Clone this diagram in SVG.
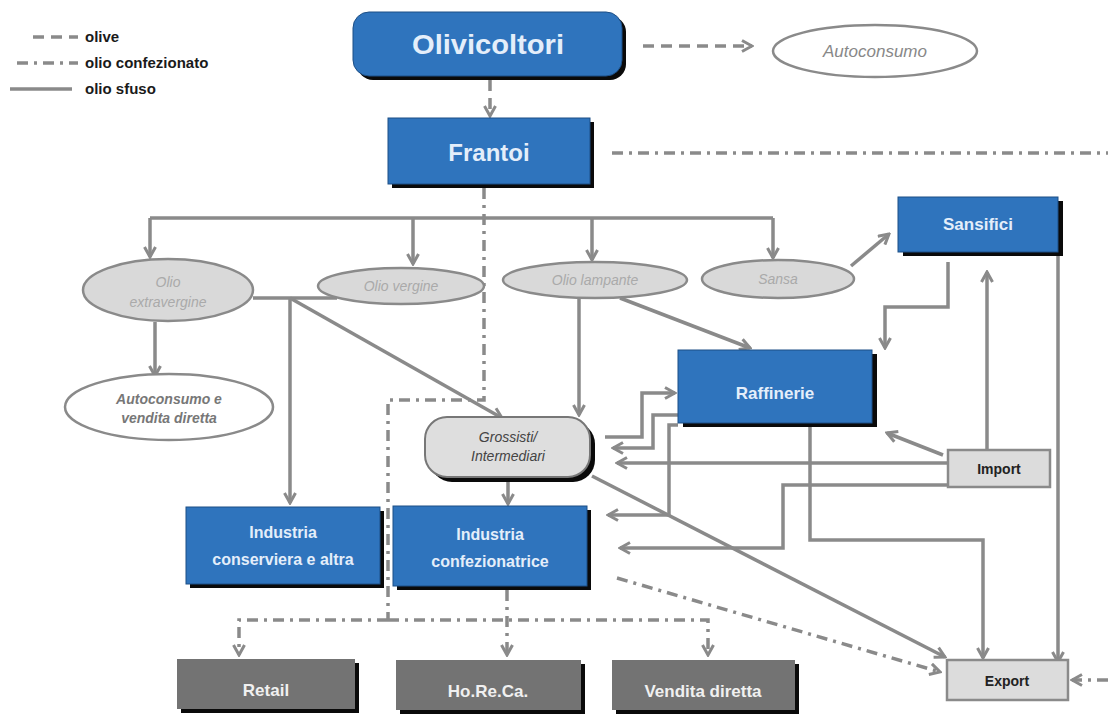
<svg xmlns="http://www.w3.org/2000/svg" width="1108" height="717" viewBox="0 0 1108 717">
<style>
  .s{fill:none;stroke:#8a8a8a;stroke-width:3.5}
  .dd{fill:none;stroke:#8a8a8a;stroke-width:3.5;stroke-dasharray:11 6 3 6}
  .d{fill:none;stroke:#8a8a8a;stroke-width:3.5;stroke-dasharray:11 7}
  .blue{fill:#2f74bd;stroke:#1d4f86;stroke-width:1}
  .shadow{fill:#0a0a0a}
  .grey{fill:#737373}
  .light{fill:#dcdcdc;stroke:#8a8a8a;stroke-width:2.5}
  .oval{fill:#d9d9d9;stroke:#8a8a8a;stroke-width:2.5}
  .woval{fill:#ffffff;stroke:#8a8a8a;stroke-width:2.5}
  .tb{font-family:"Liberation Sans",Arial,sans-serif;font-weight:bold;fill:#e4eefa;text-anchor:middle}
  .tg{font-family:"Liberation Sans",Arial,sans-serif;font-weight:bold;fill:#f0f0f0;text-anchor:middle}
  .tk{font-family:"Liberation Sans",Arial,sans-serif;font-weight:bold;fill:#222;text-anchor:middle}
  .ti{font-family:"Liberation Sans",Arial,sans-serif;font-style:italic;fill:#aaaaaa;text-anchor:middle}
  .leg{font-family:"Liberation Sans",Arial,sans-serif;font-weight:bold;fill:#1a1a1a;font-size:15px}
</style>
<defs>
  <marker id="ah" viewBox="0 0 14 14" refX="12" refY="7" markerWidth="14" markerHeight="14" markerUnits="userSpaceOnUse" orient="auto">
    <path d="M2,1.5 L12,7 L2,12.5" fill="none" stroke="#8a8a8a" stroke-width="3"/>
  </marker>
</defs>
<rect width="1108" height="717" fill="#ffffff"/>

<g id="legend">
  <line x1="33" y1="37" x2="78" y2="37" class="d" stroke-width="2.5" stroke-dasharray="9 6"/>
  <line x1="17" y1="63" x2="78" y2="63" class="dd" stroke-width="2.5" stroke-dasharray="10 6 3 6"/>
  <line x1="10" y1="89" x2="72" y2="89" class="s" stroke-width="2.5"/>
  <text x="85" y="42" class="leg">olive</text>
  <text x="85" y="68" class="leg">olio confezionato</text>
  <text x="85" y="94" class="leg">olio sfuso</text>
</g>

<g id="connectors">
  <path class="d" d="M643,46 H752" marker-end="url(#ah)"/>
  <path class="d" d="M490,80 V116" marker-end="url(#ah)"/>
  <path class="dd" d="M612,153 H1108"/>
  <path class="dd" d="M484,188 V400 H388 V620"/>
  <path class="dd" d="M388,620 H239 V655" marker-end="url(#ah)"/>
  <path class="dd" d="M507,590 V655" marker-end="url(#ah)"/>
  <path class="dd" d="M388,620 H708 V655" marker-end="url(#ah)"/>
  <path class="dd" d="M617,578 L940,672" marker-end="url(#ah)"/>
  <path class="dd" d="M1108,680 H1072" marker-end="url(#ah)"/>
  <path class="s" d="M150,218 H773"/>
  <path class="s" d="M150,218 V257" marker-end="url(#ah)"/>
  <path class="s" d="M413,218 V264" marker-end="url(#ah)"/>
  <path class="s" d="M592,218 V260" marker-end="url(#ah)"/>
  <path class="s" d="M773,218 V258" marker-end="url(#ah)"/>
  <path class="s" d="M155,322 V376" marker-end="url(#ah)"/>
  <path class="s" d="M253,298 H337"/>
  <path class="s" d="M290,298 V503" marker-end="url(#ah)"/>
  <path class="s" d="M290,298 L502,418" marker-end="url(#ah)"/>
  <path class="s" d="M579,298 V415" marker-end="url(#ah)"/>
  <path class="s" d="M620,298 L750,348" marker-end="url(#ah)"/>
  <path class="s" d="M851,266 L889,234" marker-end="url(#ah)"/>
  <path class="s" d="M948,262 V307 H885 V348" marker-end="url(#ah)"/>
  <path class="s" d="M987,450 V272" marker-end="url(#ah)"/>
  <path class="s" d="M1058,256 V662" marker-end="url(#ah)"/>
  <path class="s" d="M943,455 L887,433" marker-end="url(#ah)"/>
  <path class="s" d="M948,463 H617" marker-end="url(#ah)"/>
  <path class="s" d="M948,485 H783 V548 H620" marker-end="url(#ah)"/>
  <path class="s" d="M605,437 H642 V393 H675" marker-end="url(#ah)"/>
  <path class="s" d="M678,415 H653 V448 H613" marker-end="url(#ah)"/>
  <path class="s" d="M678,425 H669 V515 H608" marker-end="url(#ah)"/>
  <path class="s" d="M810,426 V540 H983 V658" marker-end="url(#ah)"/>
  <path class="s" d="M592,476 L945,657" marker-end="url(#ah)"/>
  <path class="s" d="M508,482 V504" marker-end="url(#ah)"/>
</g>

<g id="olivicoltori">
  <rect x="357" y="16" width="269" height="64" rx="16" class="shadow"/>
  <rect x="353" y="12" width="269" height="64" rx="16" class="blue"/>
  <text x="488" y="54" class="tb" font-size="27" font-weight="normal" textLength="152" lengthAdjust="spacingAndGlyphs">Olivicoltori</text>
</g>
<g id="autoconsumo">
  <ellipse cx="875" cy="51" rx="102" ry="26" class="woval"/>
  <text x="875" y="57" class="ti" font-size="17" style="fill:#888">Autoconsumo</text>
</g>
<g id="frantoi">
  <rect x="392" y="122" width="202" height="66" class="shadow"/>
  <rect x="388" y="118" width="202" height="66" class="blue"/>
  <text x="489" y="161" class="tb" font-size="24">Frantoi</text>
</g>
<g id="sansifici">
  <rect x="903" y="201" width="160" height="55" class="shadow"/>
  <rect x="898" y="197" width="160" height="55" class="blue"/>
  <text x="978" y="230" class="tb" font-size="17">Sansifici</text>
</g>
<g id="olio-extravergine">
  <ellipse cx="168" cy="290" rx="85" ry="31" class="oval"/>
  <text x="168" y="287" class="ti" font-size="14">Olio</text>
  <text x="168" y="307" class="ti" font-size="14">extravergine</text>
</g>
<g id="olio-vergine">
  <ellipse cx="401" cy="286" rx="83" ry="18" class="oval"/>
  <text x="401" y="291" class="ti" font-size="14">Olio vergine</text>
</g>
<g id="olio-lampante">
  <ellipse cx="595" cy="280" rx="92" ry="18" class="oval"/>
  <text x="595" y="285" class="ti" font-size="14">Olio lampante</text>
</g>
<g id="sansa">
  <ellipse cx="778" cy="279" rx="76" ry="19" class="oval"/>
  <text x="778" y="284" class="ti" font-size="14">Sansa</text>
</g>
<g id="autoconsumo-vendita">
  <ellipse cx="169" cy="407" rx="104" ry="33" class="woval"/>
  <text x="169" y="404" class="ti" font-size="14" font-weight="bold" style="fill:#777">Autoconsumo e</text>
  <text x="169" y="423" class="ti" font-size="14" font-weight="bold" style="fill:#777">vendita diretta</text>
</g>
<g id="raffinerie">
  <rect x="683" y="354" width="194" height="73" class="shadow"/>
  <rect x="678" y="350" width="194" height="73" class="blue"/>
  <text x="775" y="399" class="tb" font-size="17">Raffinerie</text>
</g>
<g id="grossisti">
  <rect x="430" y="422" width="165" height="60" rx="22" class="shadow"/>
  <rect x="425" y="417" width="165" height="60" rx="22" fill="#dedede" stroke="#777" stroke-width="2"/>
  <text x="508" y="442" class="ti" font-size="14" style="fill:#444">Grossisti/</text>
  <text x="508" y="461" class="ti" font-size="14" style="fill:#444">Intermediari</text>
</g>
<g id="import">
  <rect x="948" y="450" width="102" height="37" class="light"/>
  <text x="999" y="474" class="tk" font-size="14">Import</text>
</g>
<g id="industria-conserviera">
  <rect x="190" y="511" width="194" height="77" class="shadow"/>
  <rect x="186" y="507" width="194" height="77" class="blue"/>
  <text x="283" y="538" class="tb" font-size="16">Industria</text>
  <text x="283" y="565" class="tb" font-size="16">conserviera e altra</text>
</g>
<g id="industria-confezionatrice">
  <rect x="397" y="510" width="194" height="80" class="shadow"/>
  <rect x="393" y="506" width="194" height="80" class="blue"/>
  <text x="490" y="540" class="tb" font-size="16">Industria</text>
  <text x="490" y="567" class="tb" font-size="16">confezionatrice</text>
</g>
<g id="retail">
  <rect x="181" y="663" width="178" height="50" class="shadow"/>
  <rect x="177" y="659" width="178" height="50" class="grey"/>
  <text x="266" y="696" class="tg" font-size="17">Retail</text>
</g>
<g id="horeca">
  <rect x="400" y="664" width="185" height="50" class="shadow"/>
  <rect x="396" y="660" width="185" height="50" class="grey"/>
  <text x="488" y="697" class="tg" font-size="17">Ho.Re.Ca.</text>
</g>
<g id="vendita-diretta">
  <rect x="616" y="664" width="183" height="50" class="shadow"/>
  <rect x="612" y="660" width="183" height="50" class="grey"/>
  <text x="703" y="697" class="tg" font-size="17">Vendita  diretta</text>
</g>
<g id="export">
  <rect x="947" y="660" width="121" height="40" class="light"/>
  <text x="1007" y="686" class="tk" font-size="14">Export</text>
</g>
</svg>
